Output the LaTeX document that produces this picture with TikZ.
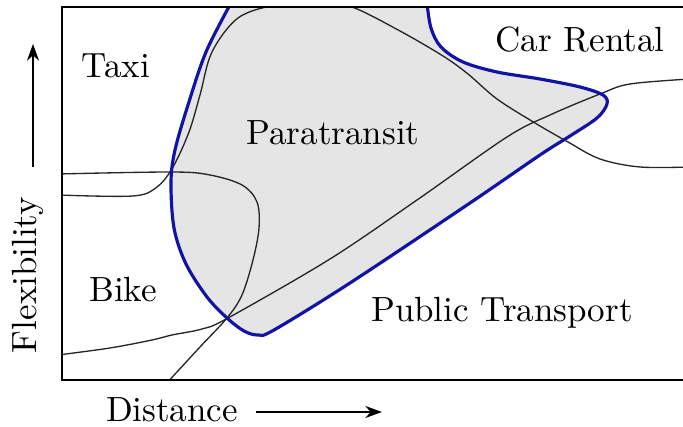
\documentclass[tikz,border=0pt]{standalone}
\usetikzlibrary{arrows.meta}
\definecolor{bnd}{RGB}{18,18,165}
\definecolor{fillgray}{RGB}{229,229,229}
\begin{document}
\begin{tikzpicture}[x=0.3pt,y=-0.3pt,
  font=\fontsize{10.5}{12.6}\selectfont,
  lbl/.style={anchor=base, inner sep=0pt},
  thincurve/.style={line width=0.4pt, black!85},
  boundary/.style={line width=0.95pt, bnd},
  axisarrow/.style={line width=0.45pt, -{Stealth[length=5pt,width=3.6pt,inset=1.6pt]}},
  frameline/.style={line width=0.85pt, black}]
\useasboundingbox (0,0) rectangle (683,427);

\begin{scope}
  \clip (62,7) rectangle (690,380);
  % shaded paratransit region
  \fill[fillgray] plot[smooth,tension=0.55] coordinates {
    (231,3) (206,52) (188,105) (175,150) (171,182) (174,228) (186,264)
    (207,297) (227,318) (244,331) (258,335) (274,330) (350,283) (470,203)
    (540,155) (570,136) (597,118) (607,104) (603,95) (580,87) (540,79)
    (497,72) (463,62) (441,47) (431,28) (427,3)} -- cycle;
  % Taxi / Car Rental boundary
  \draw[thincurve] plot[smooth,tension=0.55] coordinates {
    (58,195) (133,196) (157,187) (173,167) (189,132) (200,95) (212,52)
    (238,18) (275,5) (315,1) (352,7) (400,31) (443,56) (468,74) (497,99)
    (535,123) (568,142) (600,159) (640,167) (690,167)};
  % Bike / Paratransit boundary
  \draw[thincurve] plot[smooth,tension=0.55] coordinates {
    (58,174) (172,172) (210,175) (242,185) (257,202) (259,228) (253,260)
    (242,295) (227,318) (200,347) (165,385)};
  % Bike / Public Transport boundary
  \draw[thincurve] plot[smooth,tension=0.55] coordinates {
    (58,355) (110,348) (152,340) (172,335) (202,329) (228,318) (330,259)
    (417,200) (507,137) (550,115) (600,94) (630,84) (690,79)};
  % blue outline
  \draw[boundary] plot[smooth,tension=0.55] coordinates {
    (231,3) (206,52) (188,105) (175,150) (171,182) (174,228) (186,264)
    (207,297) (227,318) (244,331) (258,335) (274,330) (350,283) (470,203)
    (540,155) (570,136) (597,118) (607,104) (603,95) (580,87) (540,79)
    (497,72) (463,62) (441,47) (431,28) (427,3)};
\end{scope}

% frame (open to the right)
\draw[frameline] (700,7) -- (62,7) -- (62,380) -- (700,380);

% labels
\node[lbl] (taxi) at (116,78) {Taxi};
\node[lbl] (para) at (333,145) {Paratransit};
\node[lbl] (car) at (580,52) {Car Rental};
\node[lbl] (bike) at (123,302) {Bike};
\node[lbl] (pt) at (502,322) {Public Transport};
\node[lbl] (dist) at (172,422) {Distance};
\node[lbl, rotate=90] (flex) at (36,275) {Flexibility};

% axis arrows
\coordinate (ya) at (33,167);
\coordinate (yb) at (33,44);
\coordinate (xa) at (256,412);
\coordinate (xb) at (382,412);
\draw[axisarrow] (ya) -- (yb);
\draw[axisarrow] (xa) -- (xb);
\end{tikzpicture}
\end{document}
